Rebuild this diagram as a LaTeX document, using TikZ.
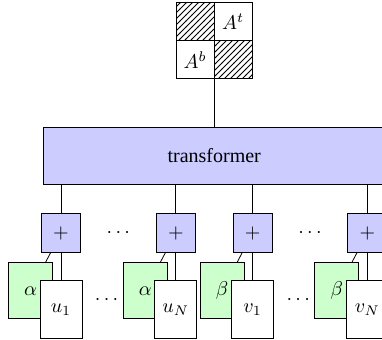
\documentclass[tikz,border=0pt]{standalone}
\usepackage{fontspec}
\setmainfont{Liberation Serif}
\usetikzlibrary{positioning, patterns, calc, backgrounds}

\begin{document}
\begin{tikzpicture}[
    x=1pt, y=1pt,
    cell/.style={
        rectangle,
        draw=black,
        minimum size=19pt,
        inner sep=0pt,
        outer sep=0pt
    },
    hatched/.style={
        cell,
        pattern=north east lines
    },
    trafo/.style={
        rectangle,
        draw=black,
        fill=blue!20,
        minimum width=171pt,
        minimum height=28.5pt
    },
    plusbox/.style={
        rectangle,
        draw=black,
        fill=blue!20,
        minimum size=19.5pt,
        inner sep=0pt
    },
    embbox/.style={
        rectangle,
        draw=black,
        fill=green!20,
        minimum width=22pt,
        minimum height=28pt,
        inner sep=0pt
    },
    tokbox/.style={
        rectangle,
        draw=black,
        fill=white,
        minimum width=21pt,
        minimum height=29pt,
        inner sep=0pt
    }
]
    \useasboundingbox (0,0) rectangle (191,-169.5);

    % -- Sum nodes --
    \node[plusbox] (p1) at (30.5,-116.5) {$+$};
    \node[plusbox, right=37.5pt of p1] (p2) {$+$};
    \node[plusbox, right=18.5pt of p2] (p3) {$+$};
    \node[plusbox, right=37.5pt of p3] (p4) {$+$};
    \node (dtop1) at ($(p1)!0.5!(p2)$) {$\cdots$};
    \node (dtop2) at ($(p3)!0.5!(p4)$) {$\cdots$};

    % -- Transformer --
    \coordinate (mid) at ($(p2.north)!0.5!(p3.north)$);
    \node[trafo, above=14.25pt of mid] (tr) {transformer};

    % -- Mask on top --
    \node[hatched, anchor=south east] (m11) at ($(tr.north)+(0,43)$) {};
    \node[cell, right=0pt of m11] (m12) {$A^t$};
    \node[cell, below=0pt of m11] (m21) {$A^b$};
    \node[hatched, right=0pt of m21] (m22) {};

    % -- Embeddings and tokens --
    \node[embbox, below=4.75pt of p1, xshift=-15.25pt] (a1) {$\alpha$};
    \node[tokbox, below=13.75pt of p1] (u1) {$u_1$};
    \node[embbox, below=4.75pt of p2, xshift=-15.25pt] (a2) {$\alpha$};
    \node[tokbox, below=13.75pt of p2] (uN) {$u_N$};
    \node[embbox, below=4.75pt of p3, xshift=-15.25pt] (b1) {$\beta$};
    \node[tokbox, below=13.75pt of p3] (v1) {$v_1$};
    \node[embbox, below=4.75pt of p4, xshift=-15.25pt] (b2) {$\beta$};
    \node[tokbox, below=13.75pt of p4] (vN) {$v_N$};
    \node[xshift=2pt] (dbot1) at ($(u1.east)!0.5!(a2.west)$) {$\cdots$};
    \node[xshift=2pt] (dbot2) at ($(v1.east)!0.5!(b2.west)$) {$\cdots$};

    % Connections
    \draw (m21.south east) -- (tr.north);
    \draw (p1.north) -- (p1.north |- tr.south);
    \draw (p2.north) -- (p2.north |- tr.south);
    \draw (p3.north) -- (p3.north |- tr.south);
    \draw (p4.north) -- (p4.north |- tr.south);

    \begin{scope}[on background layer]
        \draw (a1.center) -- (p1.center);
        \draw (u1.center) -- (p1.center);
        \draw (a2.center) -- (p2.center);
        \draw (uN.center) -- (p2.center);
        \draw (b1.center) -- (p3.center);
        \draw (v1.center) -- (p3.center);
        \draw (b2.center) -- (p4.center);
        \draw (vN.center) -- (p4.center);
    \end{scope}

\end{tikzpicture}
\end{document}
